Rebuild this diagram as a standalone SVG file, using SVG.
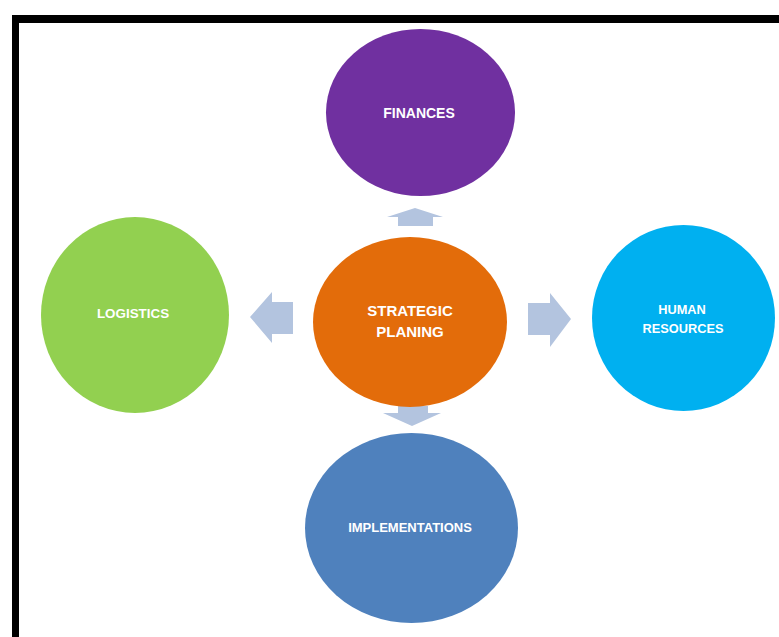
<svg xmlns="http://www.w3.org/2000/svg" width="779" height="637" viewBox="0 0 779 637">
  <style>
    .lbl { font-family: "Liberation Sans", Arial, sans-serif; font-weight: bold; fill: #ffffff; text-anchor: middle; }
    .arrow { fill: #b3c4df; }
  </style>
  <rect x="0" y="0" width="779" height="637" fill="#ffffff"/>
  <g id="frame">
    <rect x="12" y="15" width="767" height="8" fill="#000000"/>
    <rect x="12" y="15" width="7" height="622" fill="#000000"/>
  </g>
  <g id="connectors">
    <polygon class="arrow" points="415,208 443,217 433,217 433,226 398,226 398,217 387,217"/>
    <polygon class="arrow" points="398,406 428,406 428,413 441,413 412,426 383,413 398,413"/>
    <polygon class="arrow" points="250,317 272,292 272,302 293,302 293,334 272,334 272,343"/>
    <polygon class="arrow" points="528,303 550,303 550,293 571,319 550,347 550,335 528,335"/>
  </g>
  <g id="finances">
    <ellipse cx="420.5" cy="112.5" rx="94.5" ry="83.5" fill="#7030a0"/>
    <text class="lbl" x="419" y="118" font-size="14">FINANCES</text>
  </g>
  <g id="strategic-planing">
    <ellipse cx="410" cy="322" rx="97" ry="85" fill="#e36c0a"/>
    <text class="lbl" x="410" y="316" font-size="15">STRATEGIC</text>
    <text class="lbl" x="410" y="337" font-size="15">PLANING</text>
  </g>
  <g id="logistics">
    <ellipse cx="135" cy="315" rx="94" ry="98" fill="#92d050"/>
    <text class="lbl" x="133" y="318" font-size="13.4">LOGISTICS</text>
  </g>
  <g id="human-resources">
    <ellipse cx="683.5" cy="318" rx="91.5" ry="93" fill="#00b0f0"/>
    <text class="lbl" x="682" y="314" font-size="12.8">HUMAN</text>
    <text class="lbl" x="683" y="333" font-size="12.8">RESOURCES</text>
  </g>
  <g id="implementations">
    <ellipse cx="411.5" cy="528" rx="106.5" ry="95" fill="#4f81bd"/>
    <text class="lbl" x="410" y="532" font-size="13">IMPLEMENTATIONS</text>
  </g>
</svg>
